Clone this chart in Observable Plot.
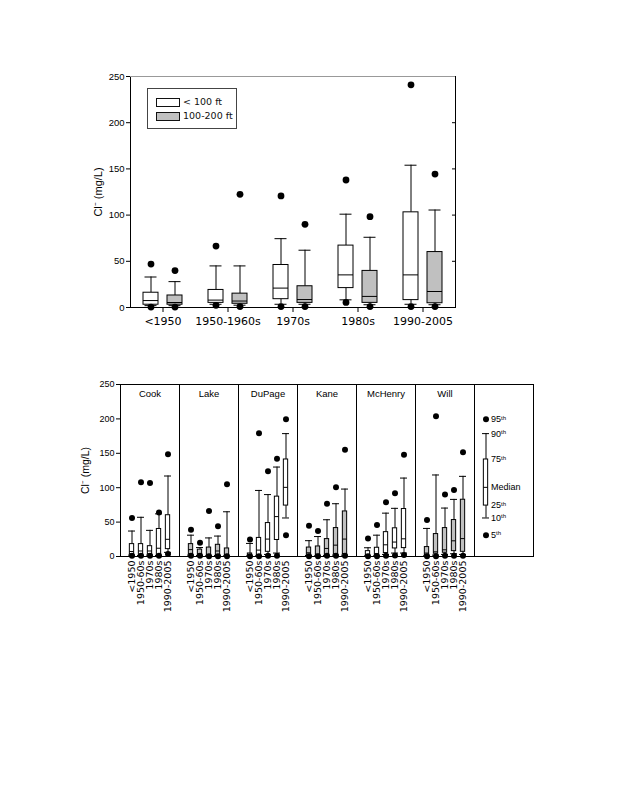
<!DOCTYPE html>
<html>
<head>
<meta charset="utf-8">
<script src="https://cdn.jsdelivr.net/npm/d3@7"></script>
<script src="https://cdn.jsdelivr.net/npm/@observablehq/plot@0.6"></script>
<style>
  body { margin: 0; background: #fff; width: 617px; height: 800px; position: relative; overflow: hidden; }
  #top, #bottom { position: absolute; left: 0; }
  #top { top: 60px; }
  #bottom { top: 370px; }
  #legendTop { position: absolute; left: 147px; top: 88px; width: 88px; height: 39px; border: 1px solid #444; background: #fff;
    font-family: "DejaVu Sans", sans-serif; font-size: 9.5px; color: #111; }
  .sw { position: absolute; left: 8px; width: 22px; height: 7px; border: 1px solid #111; }
  .lb { position: absolute; left: 35px; line-height: 12px; }
</style>
</head>
<body>
<div id="top"></div>
<div id="legendTop"></div>
<div id="bottom"></div>
<script>
// ---------- Top panel data: Cl- by decade and well depth ----------
const topDecades = ["<1950", "1950-1960s", "1970s", "1980s", "1990-2005"];
const depthClasses = ["< 100 ft", "100-200 ft"];
// values ordered: for each decade, "< 100 ft" then "100-200 ft"
const topP5  = [0.5, 0.5,   2.4, 1,     1, 1,       5.5, 1,     1, 1];
const topP10 = [2, 2,       3.5, 2.5,   3.5, 3.5,   8.3, 3,     3.5, 3];
const topQ1  = [3, 3,       5, 4,       9, 5,       21, 5,      8, 4.6];
const topMed = [7.5, 5.4,   8, 7,       21, 8.6,    35.3, 12,   35.3, 17.3];
const topQ3  = [16, 13,     19, 15,     46, 23,     67, 39.6,   103, 60];
const topP90 = [33, 28,     45, 45,     74.5, 62,   101, 76,    154, 105.5];
const topP95 = [47, 40,     66.5, 122.5, 120.7, 90, 138, 98.3,  241, 144.4];
const yTicks = [0, 50, 100, 150, 200, 250];

// ---------- Bottom panel data: Cl- by county and decade ----------
const counties = ["Cook", "Lake", "DuPage", "Kane", "McHenry", "Will"];
const countyDecades = ["<1950", "1950-60s", "1970s", "1980s", "1990-2005"];
// values ordered: for each county, the five decades
const cP5  = [1, 1, 1, 1, 3.5,        1, 1, 0.5, 0.5, 0.5,      0.5, 0.5, 1, 1, 31,        0.5, 0.5, 1, 1, 1,          0.5, 0.5, 1, 1.5, 2,       0.5, 0.5, 1, 1, 1];
const cP10 = [2, 1.5, 2, 1.5, 6,      2, 1.5, 1, 1.5, 1,        0.8, 1, 3, 5, 56,          1.5, 1, 1.5, 2, 2,          1, 1, 3, 5, 5,             1, 2, 3, 4, 3];
const cQ1  = [3, 2.3, 3, 2, 10.7,     3, 2, 1.5, 2, 2,          1, 2, 6.8, 24, 74,         2.4, 1.5, 2, 3, 3.5,        1.5, 2, 5, 11.7, 12.2,     2, 4, 5.4, 7.8, 6.8];
const cMed = [7.3, 8, 8, 12, 25,      10, 4, 3, 8, 3,           2.4, 9.3, 25.3, 58, 100.5, 5.4, 3.5, 11.7, 16.5, 25.3, 3, 4.4, 17, 21, 25.7,       5, 6.8, 9.7, 22.8, 26];
const cQ3  = [18, 18, 15, 40, 60,     18, 10, 13, 17, 11.7,     4.4, 27, 48.6, 87, 141,    13, 14.6, 25.3, 41.3, 65.5, 7.8, 12.7, 35.4, 41, 69,     13.7, 32.6, 41.3, 53, 82.5];
const cP90 = [37, 57, 38, 62, 117,    31, 13, 27, 29.7, 65,     19, 96, 90, 130, 178.6,    23, 29, 53.4, 76.7, 98,     12.7, 31, 63, 70, 114,     40.8, 118.5, 70.4, 83, 116.5];
const cP95 = [56, 108, 107, 64, 148.5, 39, 20, 66, 44, 105,     24.7, 179, 124, 142, 199.4, 44.7, 37, 76.7, 100.5, 155, 26, 45.7, 79, 92, 148,    53, 203.8, 90, 96.6, 151.4];

// ---------- Key panel (schematic box) ----------
const legendKey = "Key";
const legendLabels = ["5th", "10th", "25th", "Median", "75th", "90th", "95th"];
const legendValues = [31, 56, 74, 100.5, 141, 178.6, 199.4];

const yLabel = "Cl⁻ (mg/L)";
const GRAY = "#c0c0c0";
const SANS = "'Liberation Sans', Arial, sans-serif";
const WIDE = "'DejaVu Sans', sans-serif";

// ---------- Top chart ----------
const topRows = topP5.map((_, i) => ({
  decade: topDecades[Math.floor(i / 2)], depth: depthClasses[i % 2],
  p5: topP5[i], p10: topP10[i], q1: topQ1[i], med: topMed[i], q3: topQ3[i], p90: topP90[i], p95: topP95[i]
}));

function boxMarks(rows, fxKey, xKey, fillKey, o) {
  return [
    Plot.ruleX(rows, {fx: fxKey, x: xKey, y1: "q3", y2: "p90", stroke: "#000", strokeWidth: 1}),
    Plot.ruleX(rows, {fx: fxKey, x: xKey, y1: "p10", y2: "q1", stroke: "#000", strokeWidth: 1}),
    Plot.tickY(rows, {fx: fxKey, x: xKey, y: "p90", stroke: "#000", insetLeft: o.cap, insetRight: o.cap}),
    Plot.tickY(rows, {fx: fxKey, x: xKey, y: "p10", stroke: "#000", insetLeft: o.cap, insetRight: o.cap}),
    Plot.barY(rows, {fx: fxKey, x: xKey, y1: "q1", y2: "q3", fill: fillKey, stroke: "#000", strokeWidth: 1, insetLeft: o.box, insetRight: o.box}),
    Plot.tickY(rows, {fx: fxKey, x: xKey, y: "med", stroke: "#000", insetLeft: o.box, insetRight: o.box}),
    Plot.dot(rows, {fx: fxKey, x: xKey, y: "p5", r: o.r, fill: "#000", stroke: "none"}),
    Plot.dot(rows, {fx: fxKey, x: xKey, y: "p95", r: o.r, fill: "#000", stroke: "none"})
  ];
}

const topChart = Plot.plot({
  width: 617, height: 282,
  marginLeft: 128, marginRight: 160, marginTop: 16, marginBottom: 35,
  style: {fontFamily: SANS, fontSize: "9.5px", background: "transparent", overflow: "visible", color: "#000"},
  fx: {domain: topDecades, padding: 0, axis: null, label: null},
  x: {domain: depthClasses, paddingInner: 0.37, paddingOuter: 0.53, axis: null},
  y: {domain: [0, 250], axis: null},
  color: {domain: depthClasses, range: ["#ffffff", GRAY]},
  marks: [
    Plot.axisY({ticks: yTicks, tickSize: 4, tickPadding: 2, label: null, fontSize: 9.5}),
    Plot.axisY({anchor: "right", ticks: yTicks, tickSize: -4, tickFormat: () => "", label: null}),
    Plot.axisFx({anchor: "bottom", tickSize: 5, tickPadding: 5, label: null, fontFamily: WIDE, fontSize: 11}),
    Plot.frame({facet: "super", stroke: "#000"}),
    Plot.ruleY([250], {stroke: "#999"}),
    Plot.ruleY([0], {stroke: "#000"}),
    ...boxMarks(topRows, "decade", "depth", "depth", {cap: 1.5, box: 0, r: 3.4}),
    Plot.text([yLabel], {fx: () => topDecades[0], frameAnchor: "left", rotate: -90, dx: -32, textAnchor: "middle", lineAnchor: "middle", fontSize: 11})
  ]
});
document.getElementById("top").appendChild(topChart);

// top legend (HTML, real text)
const lg = document.getElementById("legendTop");
depthClasses.forEach((d, i) => {
  const sw = document.createElement("div");
  sw.className = "sw";
  sw.style.top = (9 + i * 14) + "px";
  sw.style.background = i === 0 ? "#fff" : GRAY;
  lg.appendChild(sw);
  const t = document.createElement("div");
  t.className = "lb";
  t.style.top = (7 + i * 14) + "px";
  t.textContent = d;
  lg.appendChild(t);
});

// ---------- Bottom chart ----------
const countyRows = cP5.map((_, i) => ({
  county: counties[Math.floor(i / 5)], decade: countyDecades[i % 5],
  p5: cP5[i], p10: cP10[i], q1: cQ1[i], med: cMed[i], q3: cQ3[i], p90: cP90[i], p95: cP95[i]
}));
const keyRow = [{
  county: legendKey, decade: countyDecades[0],
  p5: legendValues[0], p10: legendValues[1], q1: legendValues[2], med: legendValues[3],
  q3: legendValues[4], p90: legendValues[5], p95: legendValues[6]
}];
const keyLabels = legendLabels.map((l, i) => ({county: legendKey, decade: countyDecades[0], v: legendValues[i], label: l}));
const tickLabelRows = counties.flatMap(c => countyDecades.map(d => ({county: c, decade: d})));

const bottomChart = Plot.plot({
  width: 617, height: 246,
  marginLeft: 118, marginRight: 82, marginTop: 14, marginBottom: 60,
  style: {fontFamily: SANS, fontSize: "9px", background: "transparent", overflow: "visible", color: "#000"},
  fx: {domain: [...counties, legendKey], padding: 0, axis: null, label: null},
  x: {domain: countyDecades, paddingInner: 0.17, paddingOuter: 0.79, axis: null},
  y: {domain: [0, 250], axis: null},
  color: {domain: [...counties, legendKey], range: ["#ffffff", GRAY, "#ffffff", GRAY, "#ffffff", GRAY, "#ffffff"]},
  marks: [
    Plot.axisY({ticks: yTicks, tickSize: 4, tickPadding: 2, label: null, fontSize: 9}),
    Plot.frame({stroke: "#000"}),
    ...boxMarks(countyRows, "county", "decade", "county", {cap: 0, box: 1.35, r: 3}),
    ...boxMarks(keyRow, "county", "decade", "county", {cap: 0, box: 1.35, r: 3}),
    Plot.text(keyLabels, {fx: "county", x: "decade", y: "v", text: "label", dx: 5, textAnchor: "start", lineAnchor: "middle", fontSize: 9}),
    Plot.text(counties, {fx: d => d, text: d => d, frameAnchor: "top", dy: 9, lineAnchor: "middle", fontSize: 9.5}),
    Plot.text(tickLabelRows, {fx: "county", x: "decade", text: "decade", frameAnchor: "bottom", rotate: -90, textAnchor: "end", lineAnchor: "middle", dy: 4, fontFamily: WIDE, fontSize: 9.5}),
    Plot.text([yLabel], {fx: () => counties[0], frameAnchor: "left", rotate: -90, dx: -35, textAnchor: "middle", lineAnchor: "middle", fontSize: 10.5})
  ]
});
// render ordinal suffixes ("th") as superscripts
const svgNS = "http://www.w3.org/2000/svg";
bottomChart.querySelectorAll("text").forEach(t => {
  const m = t.textContent.match(/^(\d+)th$/);
  if (m && t.children.length === 0) {
    t.textContent = m[1];
    const ts = document.createElementNS(svgNS, "tspan");
    ts.setAttribute("dy", "-0.45em");
    ts.setAttribute("font-size", "6");
    ts.textContent = "th";
    t.appendChild(ts);
  }
});
document.getElementById("bottom").appendChild(bottomChart);
</script>
</body>
</html>
